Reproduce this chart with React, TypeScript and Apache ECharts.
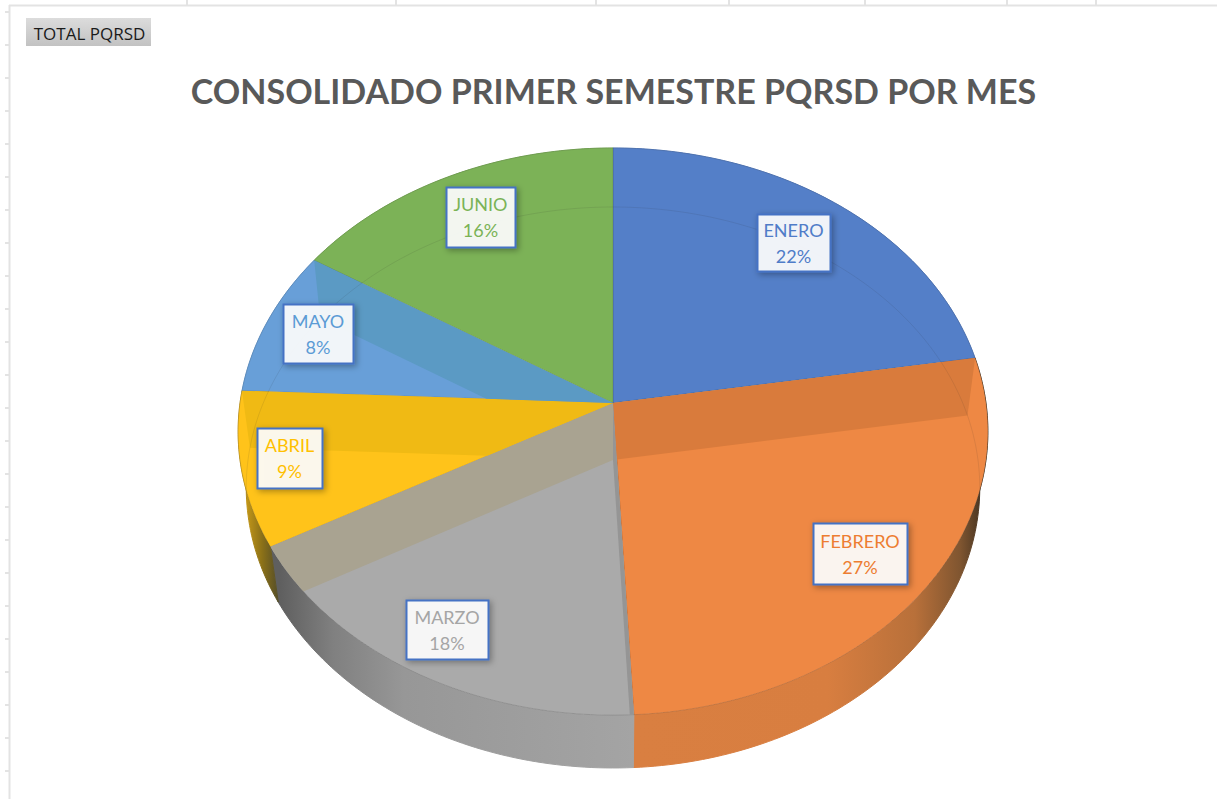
import React, { useEffect, useRef } from "react";
import * as echarts from "echarts";

const categories = ["ENERO", "FEBRERO", "MARZO", "ABRIL", "MAYO", "JUNIO"];
const sliceShares = [22.4, 26.8, 17.7, 8.8, 8.3, 16.0];

const faceColors = ["#547fc8", "#ee8844", "#aaaaaa", "#ffc31a", "#689fd8", "#7cb257"];
const labelColors = ["#4f7cc8", "#ed7d31", "#a5a5a5", "#ffc000", "#5b9bd5", "#7ab356"];

// Wall of each inner cut, seen through the translucent face.
const bands = [
  { boundary: 1, host: 1, color: "#d97b3c" },
  { boundary: 2, host: 2, color: "#959595" },
  { boundary: 3, host: 2, color: "#a9a391" },
  { boundary: 4, host: 3, color: "#f0ba14" },
  { boundary: 5, host: 4, color: "#5b9ac4" },
];

const labelBoxes = [
  [757, 214, 73, 57],
  [813, 523, 94, 61],
  [406, 600, 82, 59],
  [257, 428, 65, 60],
  [283, 304, 70, 59],
  [446, 187, 69, 60],
];

const TITLE = "CONSOLIDADO PRIMER SEMESTRE PQRSD POR MES";
const BUTTON = "TOTAL PQRSD";
const columnTicks = [187, 396, 596, 729, 865, 1007, 1096];
const FONT = "Lato, 'Open Sans', sans-serif";

type P = [number, number];
const topPlane = { cx: 613, cy: 403, a: 373, b: 280.7, k: -0.1006 };
const basePlane = { cx: 613, cy: 460, a: 365, b: 277.8, k: -0.098 };

const project = (pl: typeof topPlane, deg: number): P => {
  const t = (deg * Math.PI) / 180;
  const u = Math.sin(t);
  const v = -Math.cos(t);
  const w = 1 + pl.k * v;
  return [pl.cx + (pl.a * u) / w, pl.cy + (pl.b * v) / w];
};

const arc = (pl: typeof topPlane, from: number, to: number): P[] => {
  const out: P[] = [];
  const n = Math.max(2, Math.ceil(Math.abs(to - from)));
  for (let i = 0; i <= n; i++) out.push(project(pl, from + ((to - from) * i) / n));
  return out;
};

const total = sliceShares.reduce((a, b) => a + b, 0);
const edges: number[] = [0];
sliceShares.forEach((s, i) => edges.push(edges[i] + (s / total) * 360));

const wedge = (i: number): P[] => [
  [topPlane.cx, topPlane.cy],
  ...arc(topPlane, edges[i], edges[i + 1]),
];

const clip = (subject: P[], clipper: P[]): P[] => {
  let area = 0;
  clipper.forEach((p, i) => {
    const q = clipper[(i + 1) % clipper.length];
    area += p[0] * q[1] - q[0] * p[1];
  });
  const sign = area > 0 ? 1 : -1;
  let out = subject;
  for (let i = 0; i < clipper.length && out.length; i++) {
    const A = clipper[i];
    const B = clipper[(i + 1) % clipper.length];
    if (Math.hypot(A[0] - B[0], A[1] - B[1]) < 1e-6) continue;
    const side = (p: P) => sign * ((B[0] - A[0]) * (p[1] - A[1]) - (B[1] - A[1]) * (p[0] - A[0]));
    const next: P[] = [];
    out.forEach((p, j) => {
      const q = out[(j + 1) % out.length];
      const sp = side(p);
      const sq = side(q);
      if (sp >= 0) next.push(p);
      if (sp >= 0 !== sq >= 0) {
        const t = sp / (sp - sq);
        next.push([p[0] + (q[0] - p[0]) * t, p[1] + (q[1] - p[1]) * t]);
      }
    });
    out = next;
  }
  return out;
};

const grad = (x0: number, x1: number, stops: [number, string][]) =>
  new echarts.graphic.LinearGradient(
    x0, 0, x1, 0,
    stops.map(([offset, color]) => ({ offset, color })),
    true as any
  );

const wallFill = (i: number): any => {
  if (i === 1)
    return grad(635, 985, [
      [0, "#d97f41"],
      [0.55, "#d87e40"],
      [0.8, "#b8703a"],
      [0.93, "#7f5530"],
      [1, "#3f3020"],
    ]);
  if (i === 2)
    return grad(280, 634, [
      [0, "#5f5f5f"],
      [0.15, "#808080"],
      [0.35, "#979797"],
      [1, "#a4a4a4"],
    ]);
  if (i === 3)
    return grad(245, 280, [
      [0, "#c89a18"],
      [0.5, "#8a7018"],
      [1, "#4f4a2a"],
    ]);
  return faceColors[i];
};

export default function App() {
  const ref = useRef<HTMLDivElement>(null);
  useEffect(() => {
    const chart = echarts.init(ref.current!, undefined, { renderer: "svg" });
    const gridLine = { stroke: "#e3e3e3", lineWidth: 2 };
    const rowTicks: number[] = [];
    for (let y = 12; y < 799; y += 33) rowTicks.push(y);
    const sliceData = sliceShares.map((v, i) => ({ name: categories[i], value: v }));

    chart.setOption({
      animation: false,
      backgroundColor: "#ffffff",
      graphic: [
        { type: "line", silent: true, shape: { x1: 9, y1: 5.5, x2: 1217, y2: 5.5 }, style: gridLine },
        { type: "line", silent: true, shape: { x1: 9.5, y1: 5, x2: 9.5, y2: 799 }, style: gridLine },
        ...columnTicks.map((x) => ({
          type: "line", silent: true, shape: { x1: x, y1: 0, x2: x, y2: 5 }, style: gridLine,
        })),
        ...rowTicks.map((y) => ({
          type: "line", silent: true, shape: { x1: 5, y1: y, x2: 9, y2: y }, style: gridLine,
        })),
        {
          type: "rect", silent: true,
          shape: { x: 26, y: 18, width: 125, height: 28 },
          style: {
            fill: new echarts.graphic.LinearGradient(0, 0, 0, 1, [
              { offset: 0, color: "#dcdcdc" },
              { offset: 1, color: "#c2c2c2" },
            ]),
          },
        },
        {
          type: "text", silent: true,
          style: {
            text: BUTTON, x: 89.5, y: 33, align: "center", verticalAlign: "middle",
            fill: "#1a1a1a", font: `17px 'Open Sans', sans-serif`,
          },
        },
        {
          type: "text", silent: true,
          style: {
            text: TITLE, x: 613.5, y: 90, align: "center", verticalAlign: "middle",
            fill: "#595959", font: `bold 34px ${FONT}`,
          },
        },
      ],
      series: [
        {
          type: "custom", coordinateSystem: "none", silent: true, z: 1, data: sliceData,
          renderItem: (params: any) => {
            const i = params.dataIndex;
            const pts = [
              ...arc(topPlane, edges[i], edges[i + 1]),
              ...arc(basePlane, edges[i + 1], edges[i]),
            ];
            const fill = wallFill(i);
            return {
              type: "polygon",
              shape: { points: pts },
              style: { fill, stroke: fill, lineWidth: 1 },
            };
          },
        },
        {
          type: "custom", coordinateSystem: "none", silent: true, z: 2, data: sliceData,
          renderItem: (params: any) => {
            const i = params.dataIndex;
            return {
              type: "polygon",
              shape: { points: wedge(i) },
              style: { fill: faceColors[i], stroke: "rgba(60,60,60,0.18)", lineWidth: 1 },
            };
          },
        },
        {
          type: "custom", coordinateSystem: "none", silent: true, z: 3, data: bands,
          renderItem: (params: any) => {
            const b = bands[params.dataIndex];
            const ang = edges[b.boundary];
            const quad: P[] = [
              [topPlane.cx, topPlane.cy],
              project(topPlane, ang),
              project(basePlane, ang),
              [basePlane.cx, basePlane.cy],
            ];
            const poly = clip(quad, wedge(b.host));
            return { type: "polygon", shape: { points: poly }, style: { fill: b.color } };
          },
        },
        {
          type: "custom", coordinateSystem: "none", silent: true, z: 4, data: [1],
          renderItem: () => ({
            type: "polyline",
            shape: { points: arc(basePlane, -98, 100) },
            style: { fill: "none", stroke: "rgba(40,40,40,0.1)", lineWidth: 1 },
          }),
        },
        {
          type: "custom", coordinateSystem: "none", silent: true, z: 5, data: sliceData,
          renderItem: (params: any) => {
            const i = params.dataIndex;
            const [x, y, w, h] = labelBoxes[i];
            const font = `18px ${FONT}`;
            return {
              type: "group",
              children: [
                {
                  type: "rect",
                  shape: { x: x + 0.5, y: y + 0.5, width: w, height: h },
                  style: {
                    fill: "rgba(255,255,255,0.9)",
                    stroke: "#4472c4",
                    lineWidth: 2,
                    shadowBlur: 6,
                    shadowColor: "rgba(0,0,0,0.35)",
                    shadowOffsetX: 2,
                    shadowOffsetY: 2,
                  },
                },
                {
                  type: "text",
                  style: {
                    text: categories[i], x: x + w / 2, y: y + h / 2 - 13,
                    align: "center", verticalAlign: "middle", fill: labelColors[i], font,
                  },
                },
                {
                  type: "text",
                  style: {
                    text: `${Math.round(sliceShares[i])}%`, x: x + w / 2, y: y + h / 2 + 13,
                    align: "center", verticalAlign: "middle", fill: labelColors[i], font,
                  },
                },
              ],
            };
          },
        },
      ],
    });
    return () => chart.dispose();
  }, []);
  return (
    <div
      ref={ref}
      style={{ position: "fixed", left: 0, top: 0, width: 1217, height: 799, background: "#fff" }}
    />
  );
}
